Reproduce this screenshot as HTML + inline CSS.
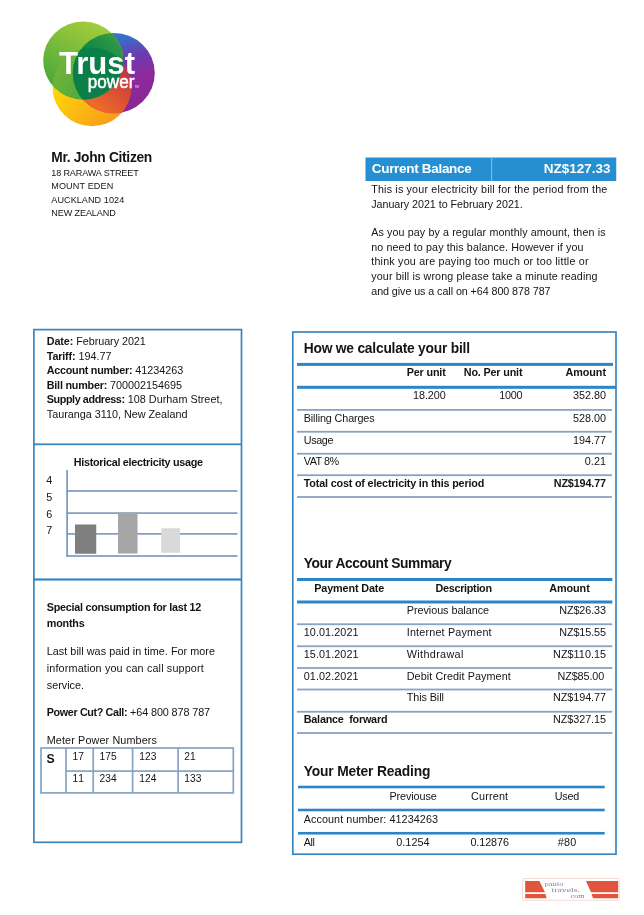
<!DOCTYPE html>
<html lang="en"><head><meta charset="utf-8"><title>Trustpower bill</title>
<style>
html,body{margin:0;padding:0;background:#fff}
body{width:644px;height:915px;position:relative;overflow:hidden;font-family:"Liberation Sans",sans-serif;color:#141414}
.abs{position:absolute;left:0;top:0}
.t{position:absolute;white-space:pre;line-height:16px;height:16px}
.t b{font-weight:700}
</style></head><body>
<svg class="abs" width="644" height="915" viewBox="0 0 644 915" shape-rendering="auto"><rect x="365.5" y="157.5" width="250.75" height="23.5" fill="#258fd2"/>
<rect x="491.00" y="157.5" width="1.2" height="23.50" fill="#74bdf0"/>
<rect x="33.9" y="329.6" width="207.6" height="512.6999999999999" fill="none" stroke="#3a86bf" stroke-width="1.7"/>
<rect x="33.9" y="443.40" width="207.60" height="1.8" fill="#3a86bf"/>
<rect x="33.9" y="578.40" width="207.60" height="2.2" fill="#3a86bf"/>
<rect x="66.20" y="470" width="1.8" height="86.90" fill="#7d9dc3"/>
<rect x="66.3" y="490.15" width="171.20" height="1.7" fill="#7d9dc3"/>
<rect x="66.3" y="512.25" width="171.20" height="1.7" fill="#7d9dc3"/>
<rect x="66.3" y="533.05" width="171.20" height="1.7" fill="#7d9dc3"/>
<rect x="66.3" y="555.15" width="171.20" height="1.7" fill="#7d9dc3"/>
<rect x="75" y="524.5" width="21.25" height="29.25" fill="#7f7f7f"/>
<rect x="118" y="512.5" width="19.5" height="41" fill="#a6a6a6"/>
<rect x="161.25" y="528.25" width="18.75" height="24.5" fill="#d9d9d9"/>
<rect x="41" y="748" width="192.3" height="44.89999999999998" fill="none" stroke="#85a3c6" stroke-width="1.7"/>
<rect x="66" y="770.25" width="167.30" height="1.7" fill="#85a3c6"/>
<rect x="65.15" y="748" width="1.7" height="44.90" fill="#85a3c6"/>
<rect x="92.35" y="748" width="1.7" height="44.90" fill="#85a3c6"/>
<rect x="131.75" y="748" width="1.7" height="44.90" fill="#85a3c6"/>
<rect x="177.25" y="748" width="1.7" height="44.90" fill="#85a3c6"/>
<rect x="292.8" y="332" width="323.2" height="522.2" fill="none" stroke="#3a86bf" stroke-width="1.7"/>
<rect x="297" y="362.90" width="316.00" height="3" fill="#2b86c8"/>
<rect x="297" y="385.80" width="319.00" height="3" fill="#2b86c8"/>
<rect x="297" y="409.00" width="315.00" height="1.8" fill="#89a3c5"/>
<rect x="297" y="430.85" width="315.00" height="1.8" fill="#89a3c5"/>
<rect x="297" y="452.85" width="315.00" height="1.8" fill="#89a3c5"/>
<rect x="297" y="474.30" width="315.00" height="1.8" fill="#89a3c5"/>
<rect x="297" y="496.10" width="315.00" height="1.8" fill="#89a3c5"/>
<rect x="297" y="578.00" width="315.30" height="3" fill="#2b86c8"/>
<rect x="297" y="600.50" width="315.30" height="3" fill="#2b86c8"/>
<rect x="297" y="623.35" width="315.30" height="1.8" fill="#89a3c5"/>
<rect x="297" y="645.35" width="315.30" height="1.8" fill="#89a3c5"/>
<rect x="297" y="667.10" width="315.30" height="1.8" fill="#89a3c5"/>
<rect x="297" y="688.60" width="315.30" height="1.8" fill="#89a3c5"/>
<rect x="297" y="710.85" width="315.30" height="1.8" fill="#89a3c5"/>
<rect x="297" y="732.10" width="315.30" height="1.8" fill="#89a3c5"/>
<rect x="298" y="785.70" width="306.70" height="2.6" fill="#2b86c8"/>
<rect x="298" y="808.70" width="306.70" height="2.6" fill="#2b86c8"/>
<rect x="298" y="831.95" width="306.70" height="2.6" fill="#2b86c8"/></svg>
<svg class="abs" width="200" height="140" viewBox="0 0 200 140">
<defs>
<linearGradient id="gG" x1="0.7" y1="0" x2="0.2" y2="1"><stop offset="0" stop-color="#a8cf3a"/><stop offset="0.55" stop-color="#6db63a"/><stop offset="1" stop-color="#3da437"/></linearGradient>
<linearGradient id="gP" x1="0.3" y1="0" x2="0.6" y2="1"><stop offset="0" stop-color="#1a8ad8"/><stop offset="0.4" stop-color="#6f3aae"/><stop offset="0.65" stop-color="#8c2a9d"/><stop offset="1" stop-color="#8a2795"/></linearGradient>
<linearGradient id="gY" x1="0" y1="0.3" x2="0.9" y2="1"><stop offset="0" stop-color="#ffe000"/><stop offset="0.5" stop-color="#fdb913"/><stop offset="1" stop-color="#f7931e"/></linearGradient>
<linearGradient id="gYP" x1="0.1" y1="1" x2="0.9" y2="0"><stop offset="0.15" stop-color="#ee6a28"/><stop offset="0.5" stop-color="#cc3f3c"/><stop offset="0.9" stop-color="#7f2180"/></linearGradient>
<linearGradient id="gGP" x1="0.9" y1="0" x2="0.3" y2="0.7"><stop offset="0" stop-color="#5aab40"/><stop offset="0.6" stop-color="#168b47"/><stop offset="1" stop-color="#0c8148"/></linearGradient>
<linearGradient id="gGY" x1="0" y1="0" x2="1" y2="0.5"><stop offset="0" stop-color="#7dba3a"/><stop offset="1" stop-color="#2f9a40"/></linearGradient>
<clipPath id="cG"><ellipse cx="83.2" cy="60.5" rx="40" ry="39"/></clipPath>
<clipPath id="cP"><ellipse cx="113.8" cy="73.1" rx="41" ry="40.2"/></clipPath>
<clipPath id="cY"><ellipse cx="92" cy="87" rx="39.5" ry="39.3"/></clipPath>
</defs>
<ellipse cx="92" cy="87" rx="39.5" ry="39.3" fill="url(#gY)"/>
<ellipse cx="113.8" cy="73.1" rx="41" ry="40.2" fill="url(#gP)"/>
<g clip-path="url(#cY)"><ellipse cx="113.8" cy="73.1" rx="41" ry="40.2" fill="url(#gYP)"/></g>
<ellipse cx="83.2" cy="60.5" rx="40" ry="39" fill="url(#gG)"/>
<g clip-path="url(#cG)"><ellipse cx="92" cy="87" rx="39.5" ry="39.3" fill="url(#gGY)" opacity="0.9"/></g>
<g clip-path="url(#cG)"><ellipse cx="113.8" cy="73.1" rx="41" ry="40.2" fill="url(#gGP)"/></g>
<g clip-path="url(#cG)"><g clip-path="url(#cP)"><ellipse cx="92" cy="87" rx="39.5" ry="39.3" fill="#0b7f49"/></g></g>
<text x="59" y="73.6" font-family="Liberation Sans, sans-serif" font-weight="700" font-size="31" fill="#fff" textLength="76" lengthAdjust="spacingAndGlyphs">Trust</text>
<text x="87.8" y="88" font-family="Liberation Sans, sans-serif" font-weight="400" font-size="18" fill="#fff" stroke="#fff" stroke-width="0.5" textLength="46.6" lengthAdjust="spacingAndGlyphs">power</text>
<text x="135" y="88" font-family="Liberation Sans, sans-serif" font-size="2.6" fill="#fff">TM</text>
</svg>

<span class="t" style="left:51.25px;top:150.00px;font-size:13.8px;letter-spacing:-0.319px;font-weight:700">Mr. John Citizen</span>
<span class="t" style="left:51.25px;top:165.00px;font-size:9.09px;letter-spacing:-0.142px">18 RARAWA STREET</span>
<span class="t" style="left:51.25px;top:178.00px;font-size:9.09px;letter-spacing:0.125px">MOUNT EDEN</span>
<span class="t" style="left:51.25px;top:192.00px;font-size:9.09px;letter-spacing:0.070px">AUCKLAND 1024</span>
<span class="t" style="left:51.25px;top:205.00px;font-size:9.09px;letter-spacing:-0.108px">NEW ZEALAND</span>
<span class="t" style="left:371.75px;top:161.00px;font-size:13.5px;letter-spacing:-0.307px;font-weight:700;color:#fff">Current Balance</span>
<span class="t" style="left:543.75px;top:161.00px;font-size:13.5px;letter-spacing:-0.006px;font-weight:700;color:#fff">NZ$127.33</span>
<span class="t" style="left:371.25px;top:181.00px;font-size:10.71px;letter-spacing:0.180px">This is your electricity bill for the period from the</span>
<span class="t" style="left:371.25px;top:196.00px;font-size:10.71px;letter-spacing:-0.029px">January 2021 to February 2021.</span>
<span class="t" style="left:371.25px;top:224.00px;font-size:10.71px;letter-spacing:0.113px">As you pay by a regular monthly amount, then is</span>
<span class="t" style="left:371.25px;top:239.00px;font-size:10.71px;letter-spacing:0.109px">no need to pay this balance. However if you</span>
<span class="t" style="left:371.25px;top:253.00px;font-size:10.71px;letter-spacing:0.214px">think you are paying too much or too little or</span>
<span class="t" style="left:371.25px;top:268.00px;font-size:10.71px;letter-spacing:0.133px">your bill is wrong please take a minute reading</span>
<span class="t" style="left:371.25px;top:283.00px;font-size:10.71px;letter-spacing:-0.055px">and give us a call on +64 800 878 787</span>
<span class="t" style="left:46.75px;top:406.00px;font-size:10.8px;letter-spacing:-0.004px">Tauranga 3110, New Zealand</span>
<span class="t" style="left:73.75px;top:454.00px;font-size:10.8px;letter-spacing:-0.281px;font-weight:700">Historical electricity usage</span>
<span class="t" style="left:46.25px;top:472.00px;font-size:10.8px;letter-spacing:0.000px">4</span>
<span class="t" style="left:46.25px;top:489.00px;font-size:10.8px;letter-spacing:0.000px">5</span>
<span class="t" style="left:46.25px;top:506.00px;font-size:10.8px;letter-spacing:0.000px">6</span>
<span class="t" style="left:46.25px;top:522.00px;font-size:10.8px;letter-spacing:0.000px">7</span>
<span class="t" style="left:46.75px;top:599.00px;font-size:10.8px;letter-spacing:-0.270px;font-weight:700">Special consumption for last 12</span>
<span class="t" style="left:46.75px;top:615.00px;font-size:10.8px;letter-spacing:-0.212px;font-weight:700">months</span>
<span class="t" style="left:46.75px;top:643.00px;font-size:10.8px;letter-spacing:0.041px">Last bill was paid in time. For more</span>
<span class="t" style="left:46.75px;top:660.00px;font-size:10.8px;letter-spacing:0.147px">information you can call support</span>
<span class="t" style="left:46.75px;top:677.00px;font-size:10.8px;letter-spacing:0.002px">service.</span>
<span class="t" style="left:46.75px;top:732.00px;font-size:10.8px;letter-spacing:0.124px">Meter Power Numbers</span>
<span class="t" style="left:46.60px;top:751.00px;font-size:12.24px;letter-spacing:0.000px;font-weight:700">S</span>
<span class="t" style="left:72.50px;top:749.00px;font-size:10.2px;letter-spacing:0.141px">17</span>
<span class="t" style="left:72.50px;top:771.00px;font-size:10.2px;letter-spacing:0.906px">11</span>
<span class="t" style="left:99.50px;top:749.00px;font-size:10.2px;letter-spacing:0.117px">175</span>
<span class="t" style="left:99.50px;top:771.00px;font-size:10.2px;letter-spacing:0.117px">234</span>
<span class="t" style="left:139.25px;top:749.00px;font-size:10.2px;letter-spacing:0.117px">123</span>
<span class="t" style="left:139.25px;top:771.00px;font-size:10.2px;letter-spacing:0.117px">124</span>
<span class="t" style="left:184.25px;top:749.00px;font-size:10.2px;letter-spacing:0.141px">21</span>
<span class="t" style="left:184.25px;top:771.00px;font-size:10.2px;letter-spacing:0.117px">133</span>
<span class="t" style="left:303.75px;top:341.00px;font-size:13.8px;letter-spacing:-0.220px;font-weight:700">How we calculate your bill</span>
<span class="t" style="left:406.75px;top:364.00px;font-size:10.8px;letter-spacing:-0.172px;font-weight:700">Per unit</span>
<span class="t" style="left:463.75px;top:364.00px;font-size:10.8px;letter-spacing:-0.168px;font-weight:700">No. Per unit</span>
<span class="t" style="left:565.50px;top:364.00px;font-size:10.8px;letter-spacing:-0.056px;font-weight:700">Amount</span>
<span class="t" style="left:413.00px;top:387.00px;font-size:10.8px;letter-spacing:-0.056px">18.200</span>
<span class="t" style="left:499.25px;top:387.00px;font-size:10.8px;letter-spacing:-0.260px">1000</span>
<span class="t" style="left:573.00px;top:387.00px;font-size:10.8px;letter-spacing:-0.006px">352.80</span>
<span class="t" style="left:303.75px;top:410.00px;font-size:10.8px;letter-spacing:-0.123px">Billing Charges</span>
<span class="t" style="left:573.00px;top:410.00px;font-size:10.8px;letter-spacing:-0.006px">528.00</span>
<span class="t" style="left:303.75px;top:432.00px;font-size:10.8px;letter-spacing:-0.387px">Usage</span>
<span class="t" style="left:573.00px;top:432.00px;font-size:10.8px;letter-spacing:-0.006px">194.77</span>
<span class="t" style="left:303.75px;top:453.00px;font-size:10.8px;letter-spacing:-0.466px">VAT 8%</span>
<span class="t" style="left:584.72px;top:453.00px;font-size:10.8px;letter-spacing:0.089px">0.21</span>
<span class="t" style="left:303.75px;top:475.00px;font-size:10.8px;letter-spacing:-0.181px;font-weight:700">Total cost of electricity in this period</span>
<span class="t" style="left:553.75px;top:475.00px;font-size:10.8px;letter-spacing:-0.146px;font-weight:700">NZ$194.77</span>
<span class="t" style="left:303.75px;top:556.00px;font-size:13.8px;letter-spacing:-0.402px;font-weight:700">Your Account Summary</span>
<span class="t" style="left:314.25px;top:580.00px;font-size:10.8px;letter-spacing:-0.129px;font-weight:700">Payment Date</span>
<span class="t" style="left:435.50px;top:580.00px;font-size:10.8px;letter-spacing:-0.291px;font-weight:700">Description</span>
<span class="t" style="left:549.25px;top:580.00px;font-size:10.8px;letter-spacing:-0.056px;font-weight:700">Amount</span>
<span class="t" style="left:406.75px;top:602.00px;font-size:10.8px;letter-spacing:-0.037px">Previous balance</span>
<span class="t" style="left:559.19px;top:602.00px;font-size:10.8px;letter-spacing:-0.087px">NZ$26.33</span>
<span class="t" style="left:303.75px;top:624.00px;font-size:10.8px;letter-spacing:0.075px">10.01.2021</span>
<span class="t" style="left:406.75px;top:624.00px;font-size:10.8px;letter-spacing:0.176px">Internet Payment</span>
<span class="t" style="left:559.19px;top:624.00px;font-size:10.8px;letter-spacing:-0.087px">NZ$15.55</span>
<span class="t" style="left:303.75px;top:646.00px;font-size:10.8px;letter-spacing:0.075px">15.01.2021</span>
<span class="t" style="left:406.75px;top:646.00px;font-size:10.8px;letter-spacing:0.356px">Withdrawal</span>
<span class="t" style="left:553.11px;top:646.00px;font-size:10.8px;letter-spacing:0.033px">NZ$110.15</span>
<span class="t" style="left:303.75px;top:668.00px;font-size:10.8px;letter-spacing:0.075px">01.02.2021</span>
<span class="t" style="left:406.75px;top:668.00px;font-size:10.8px;letter-spacing:0.072px">Debit Credit Payment</span>
<span class="t" style="left:557.44px;top:668.00px;font-size:10.8px;letter-spacing:-0.087px">NZ$85.00</span>
<span class="t" style="left:406.75px;top:689.00px;font-size:10.8px;letter-spacing:-0.086px">This Bill</span>
<span class="t" style="left:553.11px;top:689.00px;font-size:10.8px;letter-spacing:-0.066px">NZ$194.77</span>
<span class="t" style="left:303.75px;top:711.00px;font-size:10.8px;letter-spacing:-0.218px;font-weight:700">Balance  forward</span>
<span class="t" style="left:553.11px;top:711.00px;font-size:10.8px;letter-spacing:-0.066px">NZ$327.15</span>
<span class="t" style="left:303.75px;top:764.00px;font-size:13.8px;letter-spacing:-0.151px;font-weight:700">Your Meter Reading</span>
<span class="t" style="left:389.50px;top:788.00px;font-size:10.8px;letter-spacing:-0.096px">Previouse</span>
<span class="t" style="left:471.00px;top:788.00px;font-size:10.8px;letter-spacing:0.181px">Current</span>
<span class="t" style="left:554.70px;top:788.00px;font-size:10.8px;letter-spacing:-0.173px">Used</span>
<span class="t" style="left:303.75px;top:811.00px;font-size:10.8px;letter-spacing:0.069px">Account number: 41234263</span>
<span class="t" style="left:303.75px;top:834.00px;font-size:10.8px;letter-spacing:-0.375px">All</span>
<span class="t" style="left:396.25px;top:834.00px;font-size:10.8px;letter-spacing:0.044px">0.1254</span>
<span class="t" style="left:470.40px;top:834.00px;font-size:10.8px;letter-spacing:-0.072px">0.12876</span>
<span class="t" style="left:557.80px;top:834.00px;font-size:10.8px;letter-spacing:0.192px">#80</span>
<span class="t" style="left:46.75px;top:333.00px;font-size:10.8px"><b style="letter-spacing:-0.105px">Date:</b><span style="letter-spacing:-0.051px"> February 2021</span></span>
<span class="t" style="left:46.75px;top:348.00px;font-size:10.8px"><b style="letter-spacing:-0.158px">Tariff:</b><span style="letter-spacing:0.018px"> 194.77</span></span>
<span class="t" style="left:46.75px;top:362.00px;font-size:10.8px"><b style="letter-spacing:-0.260px">Account number:</b><span style="letter-spacing:-0.002px"> 41234263</span></span>
<span class="t" style="left:46.75px;top:377.00px;font-size:10.8px"><b style="letter-spacing:-0.220px">Bill number:</b><span style="letter-spacing:-0.012px"> 700002154695</span></span>
<span class="t" style="left:46.75px;top:391.00px;font-size:10.8px"><b style="letter-spacing:-0.410px">Supply address:</b><span style="letter-spacing:0.035px"> 108 Durham Street,</span></span>
<span class="t" style="left:46.75px;top:704.00px;font-size:10.8px"><b style="letter-spacing:-0.376px">Power Cut? Call:</b><span style="letter-spacing:-0.093px"> +64 800 878 787</span></span>
<svg class="abs" width="644" height="915" viewBox="0 0 644 915">
<rect x="522.6" y="878.5" width="96.8" height="21.8" rx="1.5" fill="#fff" stroke="#f3c3bc" stroke-width="0.6"/>
<polygon points="525.2,881 539.4,881 545,892.3 525.2,892.3" fill="#e2553c"/>
<polygon points="525.2,894 545.4,894 546.6,898.2 525.2,898.2" fill="#e2553c"/>
<polygon points="586,881 618.2,881 618.2,892.3 591,892.3" fill="#e2553c"/>
<polygon points="591.6,894 618.2,894 618.2,898.2 593,898.2" fill="#e2553c"/>
<g font-family="Liberation Serif, serif" font-size="6.3" fill="#7a839d">
<text x="544.5" y="885.7" textLength="19" lengthAdjust="spacingAndGlyphs">paulo</text>
<text x="551.6" y="891.6" textLength="28.4" lengthAdjust="spacingAndGlyphs">travels.</text>
<text x="570.7" y="898.2" textLength="14" lengthAdjust="spacingAndGlyphs">com</text>
</g>
</svg>

</body></html>
